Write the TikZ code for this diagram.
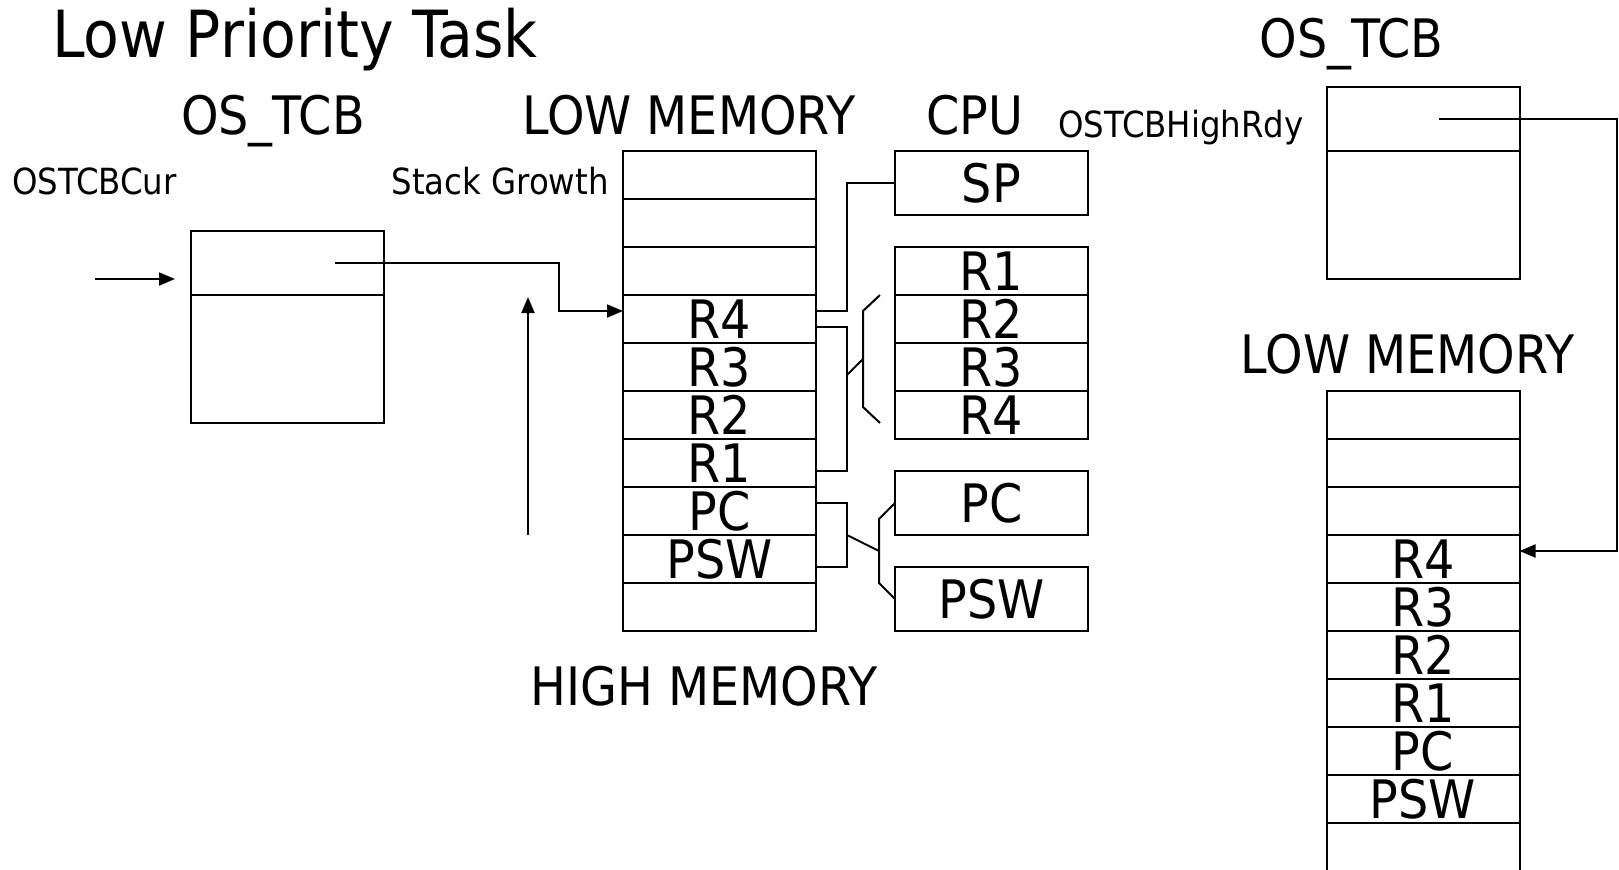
\documentclass[tikz,border=0pt]{standalone}
\usepackage{fontspec}
\setmainfont{DejaVu Sans Condensed}
\usetikzlibrary{positioning}
\usetikzlibrary{arrows.meta}

\begin{document}
\begin{tikzpicture}[
    x=0.5pt, y=-0.5pt,
    cell/.style={rectangle, draw, line width=1pt, minimum width=96.5pt, minimum height=24pt, inner sep=0pt, outer sep=0pt, font=\fontsize{26.5}{28}\selectfont},
    tallcell/.style={cell, minimum height=32pt},
    tcbcell/.style={cell, minimum height=64pt},
    heading/.style={inner sep=0pt, anchor=base, font=\fontsize{26.5}{28}\selectfont},
    varname/.style={inner sep=0pt, font=\fontsize{18}{20}\selectfont},
    link/.style={line width=1pt},
    ptr/.style={-{Triangle[length=8pt,width=6.5pt]}, line width=1pt}
]
    \useasboundingbox (0,0) rectangle (1619,869);

    % Titles
    \node[heading, anchor=base west, font=\fontsize{32.5}{34}\selectfont] (title) at (52,57) {Low Priority Task};
    \node[heading] (curTcbLbl) at (273,134) {OS\_TCB};
    \node[heading] (lowMemLbl) at (689,134) {LOW MEMORY};
    \node[heading] (cpuLbl) at (974.5,134) {CPU};
    \node[heading] (highMemLbl) at (704,705) {HIGH MEMORY};
    \node[heading] (rdyTcbLbl) at (1351.5,57) {OS\_TCB};
    \node[heading] (rdyMemLbl) at (1407.5,373) {LOW MEMORY};
    \node[varname, anchor=base west] (curLbl) at (12,194) {OSTCBCur};
    \node[varname, anchor=base east] (growLbl) at (609,194) {Stack Growth};
    \node[varname, anchor=base west] (rdyLbl) at (1058,137) {OSTCBHighRdy};

    % Current task TCB
    \node[tallcell] (curTop) at (287,263) {};
    \node[tcbcell, below=0pt of curTop] (curBody) {};

    % Low priority task stack
    \node[cell] (low1) at (719.5,175) {};
    \node[cell, below=0pt of low1] (low2) {};
    \node[cell, below=0pt of low2] (low3) {};
    \node[cell, below=0pt of low3] (lowR4) {R4};
    \node[cell, below=0pt of lowR4] (lowR3) {R3};
    \node[cell, below=0pt of lowR3] (lowR2) {R2};
    \node[cell, below=0pt of lowR2] (lowR1) {R1};
    \node[cell, below=0pt of lowR1] (lowPC) {PC};
    \node[cell, below=0pt of lowPC] (lowPSW) {PSW};
    \node[cell, below=0pt of lowPSW] (low10) {};

    % CPU registers
    \node[tallcell] (cpuSP) at (991.5,183) {SP};
    \node[cell] (cpuR1) at (991.5,271) {R1};
    \node[cell, below=0pt of cpuR1] (cpuR2) {R2};
    \node[cell, below=0pt of cpuR2] (cpuR3) {R3};
    \node[cell, below=0pt of cpuR3] (cpuR4) {R4};
    \node[tallcell] (cpuPC) at (991.5,503) {PC};
    \node[tallcell] (cpuPSW) at (991.5,599) {PSW};

    % High priority TCB
    \node[tallcell] (rdyTop) at (1423,119) {};
    \node[tcbcell, below=0pt of rdyTop] (rdyBody) {};

    % High priority task stack
    \node[cell] (high1) at (1423,415) {};
    \node[cell, below=0pt of high1] (high2) {};
    \node[cell, below=0pt of high2] (high3) {};
    \node[cell, below=0pt of high3] (highR4) {R4};
    \node[cell, below=0pt of highR4] (highR3) {R3};
    \node[cell, below=0pt of highR3] (highR2) {R2};
    \node[cell, below=0pt of highR2] (highR1) {R1};
    \node[cell, below=0pt of highR1] (highPC) {PC};
    \node[cell, below=0pt of highPC] (highPSW) {PSW};
    \node[cell, below=0pt of highPSW] (high10) {};

    % Arrows
    \coordinate (curIn) at (95,279);
    \coordinate (curTip) at (175,279);
    \coordinate (growFrom) at (528,535);
    \coordinate (growTo) at (528,297);
    \draw[ptr] (curIn) -- (curTip);
    \draw[ptr] (growFrom) -- (growTo);
    \draw[ptr] ([xshift=24pt]curTop.center) -| ([xshift=-32pt,yshift=4pt]lowR4.west) -- ([yshift=4pt]lowR4.west);
    \draw[ptr] ([xshift=8pt]rdyTop.center) -| ([xshift=48.5pt,yshift=4pt]highR4.east) -- ([yshift=4pt]highR4.east);

    % Stack to CPU
    \draw[link] ([yshift=4pt]lowR4.east) -- ++(15.5pt,0) |- (cpuSP.west);
    \draw[link] ([yshift=-4pt]lowR4.east) -- ++(15.5pt,0) |- ([yshift=-4pt]lowR1.east);
    \draw[link] ([xshift=15.5pt,yshift=-4pt]lowR3.east) -- ([xshift=-16pt,yshift=-8pt]cpuR2.south west);
    \draw[link] ([xshift=-7.5pt]cpuR1.south west) -- ++(-8.5pt,-8pt) -- ([xshift=-16pt,yshift=-8pt]cpuR4.north west) -- ++(8.5pt,-8pt);
    \draw[link] ([yshift=4pt]lowPC.east) -- ++(15.5pt,0) |- ([yshift=-4pt]lowPSW.east);
    \draw[link] ([xshift=15.5pt]lowPC.south east) -- ([xshift=-8pt,yshift=-8pt]cpuPC.south west);
    \draw[link] (cpuPC.west) -- ++(-8pt,-8pt) -- ([xshift=-8pt,yshift=8pt]cpuPSW.west) -- (cpuPSW.west);
\end{tikzpicture}
\end{document}
